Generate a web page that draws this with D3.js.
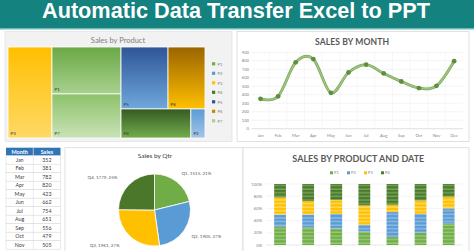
<!DOCTYPE html>
<html><head><meta charset="utf-8">
<script src="https://cdn.jsdelivr.net/npm/d3@7"></script>
<style>html,body{margin:0;padding:0;background:#fff;overflow:hidden}svg{display:block}</style>
</head><body>
<script>
// ---- data ----
const products = ["P1","P2","P3","P4","P5","P6","P7"];
const productSales = {P1:324,P2:41,P3:400,P4:203,P5:291,P6:229,P7:304};
const months = ["Jan","Feb","Mar","Apr","May","Jun","Jul","Aug","Sep","Oct","Nov","Dec"];
const monthSales = [352,381,782,820,423,662,754,651,556,479,505,795];
const quarters = ["Q1","Q2","Q3","Q4"];
const qtrSales = [1515,1905,1961,1779];
const qtrPct = ["21%","27%","27%","25%"];
const dates = ["1-Jan","2-Jan","3-Jan","4-Jan","5-Jan","6-Jan","7-Jan"];
const stackKeys = ["P1","P2","P3","P4"];
const stackP1 = [30,29,27,22,13,20,35];
const stackP2 = [20,21,24,11,41,31,25];
const stackP3 = [28,22,23,32,12,22,19];
const stackP4 = [22,28,26,35,34,27,21];
const lineTicks = [0,100,200,300,400,500,600,700,800,900];
const pctTicks = [0,0.2,0.4,0.6,0.8,1];

const W=474,H=251;
const svg=d3.select("body").append("svg").attr("width",W).attr("height",H);
const defs=svg.append("defs");
const F="Lato, 'Open Sans', sans-serif";

// ---- header ----
svg.append("rect").attr("x",0).attr("y",0).attr("width",W).attr("height",28).attr("fill","#14827f");
svg.append("rect").attr("x",0).attr("y",28).attr("width",W).attr("height",1.5).attr("fill","#6dbab6");
svg.append("text").attr("x",236).attr("y",18).attr("text-anchor","middle")
  .attr("font-family","'Liberation Sans', Arial, sans-serif").attr("font-weight","bold")
  .attr("font-size",21.5).attr("fill","#fff").attr("textLength",388).attr("lengthAdjust","spacingAndGlyphs")
  .text("Automatic Data Transfer Excel to PPT");

// ---- treemap ----
svg.append("rect").attr("x",5).attr("y",31.5).attr("width",227).attr("height",110).attr("fill","#f2f2f2").attr("stroke","#e3e3e3").attr("stroke-width",0.8);
svg.append("text").attr("x",118).attr("y",43).attr("text-anchor","middle").attr("font-family",F)
  .attr("font-size",7.5).attr("fill","#7f7f7f").text("Sales by Product");
const tmGrad={P1:["#6aa845","#a9d18e"],P2:["#5b9bd5","#a3c6e8"],P3:["#ffbf00","#ffd966"],P4:["#355a22","#74ad4e"],
  P5:["#2f5597","#6fa8dc"],P6:["#9a6400","#ffc000"],P7:["#8dc26a","#c9e3b7"]};
Object.entries(tmGrad).forEach(([k,c])=>{
  const g=defs.append("linearGradient").attr("id","tm"+k).attr("x1",0).attr("y1",0).attr("x2",0).attr("y2",1);
  g.append("stop").attr("offset","0%").attr("stop-color",c[0]);
  g.append("stop").attr("offset","100%").attr("stop-color",c[1]);
});
const tree={name:"root",children:[
  {name:"P3",value:productSales.P3},
  {name:"g1",children:[{name:"P1",value:productSales.P1},{name:"P7",value:productSales.P7}]},
  {name:"g2",children:[
    {name:"r1",children:[{name:"P5",value:productSales.P5},{name:"P6",value:productSales.P6}]},
    {name:"r2",children:[{name:"P4",value:productSales.P4},{name:"P2",value:productSales.P2}]}]}
]};
const root=d3.hierarchy(tree).sum(d=>d.value||0);
d3.treemap().tile(d3.treemapSliceDice).size([197,91]).paddingInner(0)(root);
const tm=svg.append("g").attr("transform","translate(8,47)");
root.leaves().forEach(l=>{
  tm.append("rect").attr("x",l.x0).attr("y",l.y0).attr("width",l.x1-l.x0).attr("height",l.y1-l.y0)
    .attr("fill","url(#tm"+l.data.name+")").attr("stroke","#fff").attr("stroke-width",0.8);
  tm.append("text").attr("x",l.x0+2.5).attr("y",l.y1-3).attr("font-family",F).attr("font-size",4.5)
    .attr("fill","#333").text(l.data.name);
});
const legCol={P1:"#70ad47",P2:"#5b9bd5",P3:"#ffc000",P4:"#4a7a2c",P5:"#2f5597",P6:"#bf8f00",P7:"#a9d18e"};
const legY=d3.scalePoint().domain(products).range([64,121]);
products.forEach(p=>{
  svg.append("rect").attr("x",212).attr("y",legY(p)-1.8).attr("width",3.2).attr("height",3.2).attr("fill",legCol[p]);
  svg.append("text").attr("x",217.5).attr("y",legY(p)+1.5).attr("font-family",F).attr("font-size",4.2).attr("fill","#7f7f7f").text(p);
});

// ---- line chart ----
svg.append("rect").attr("x",237).attr("y",31.5).attr("width",232).attr("height",110).attr("fill","#fff").attr("stroke","#d9d9d9").attr("stroke-width",0.8);
svg.append("text").attr("x",352).attr("y",45).attr("text-anchor","middle").attr("font-family",F).attr("font-weight","bold")
  .attr("font-size",8.6).attr("fill","#595959").attr("textLength",74).attr("lengthAdjust","spacing").text("SALES BY MONTH");
const lx=d3.scaleBand().domain(months).range([251.7,462.9]);
const ly=d3.scaleLinear().domain([0,900]).range([128.7,52.3]);
const lg=svg.append("g");
lineTicks.forEach(t=>{
  lg.append("line").attr("x1",251.7).attr("x2",462.9).attr("y1",ly(t)).attr("y2",ly(t)).attr("stroke","#ececec").attr("stroke-width",0.6);
  lg.append("text").attr("x",249).attr("y",ly(t)+1.5).attr("text-anchor","end").attr("font-family",F).attr("font-size",4.2).attr("fill","#7f7f7f").text(t);
});
months.forEach((m,i)=>{
  if(i>0) lg.append("line").attr("x1",lx(m)).attr("x2",lx(m)).attr("y1",52.3).attr("y2",128.7).attr("stroke","#f0f0f0").attr("stroke-width",0.6);
  lg.append("text").attr("x",lx(m)+lx.bandwidth()/2).attr("y",137).attr("text-anchor","middle").attr("font-family",F).attr("font-size",4.2).attr("fill","#7f7f7f").text(m);
});
lg.append("line").attr("x1",251.7).attr("x2",462.9).attr("y1",ly(0)).attr("y2",ly(0)).attr("stroke","#d9d9d9").attr("stroke-width",0.6);
const pts=months.map((m,i)=>[lx(m)+lx.bandwidth()/2,ly(monthSales[i])]);
const line=d3.line().curve(d3.curveCardinal.tension(0)).x(d=>d[0]).y(d=>d[1]);
lg.append("path").attr("d",line(pts)).attr("fill","none").attr("stroke","#6f9c4c").attr("stroke-width",2.8);
lg.append("path").attr("d",line(pts)).attr("fill","none").attr("stroke","#9dc47c").attr("stroke-width",1.8);
pts.forEach(p=>lg.append("circle").attr("cx",p[0]).attr("cy",p[1]).attr("r",2.4).attr("fill","#5f8f3e"));

// ---- table (rows that fit in the window) ----
const tx0=6,tx1=60.5,tdiv=33.3,thy=147.7,thh=8,rh=8.5;
svg.append("rect").attr("x",tx0).attr("y",thy).attr("width",tx1-tx0).attr("height",thh).attr("fill","#2e75b6");
svg.append("line").attr("x1",tdiv).attr("x2",tdiv).attr("y1",thy).attr("y2",thy+thh).attr("stroke","#fff").attr("stroke-width",0.6);
svg.append("text").attr("x",(tx0+tdiv)/2).attr("y",thy+5.8).attr("text-anchor","middle").attr("font-family",F).attr("font-weight","bold").attr("font-size",5.5).attr("fill","#fff").text("Month");
svg.append("text").attr("x",(tdiv+tx1)/2).attr("y",thy+5.8).attr("text-anchor","middle").attr("font-family",F).attr("font-weight","bold").attr("font-size",5.5).attr("fill","#fff").text("Sales");
months.forEach((m,i)=>{
  const y=thy+thh+i*rh;
  if(y+rh>H+0.5) return;
  svg.append("rect").attr("x",tx0).attr("y",y).attr("width",tx1-tx0).attr("height",rh).attr("fill","#fff").attr("stroke","#d6d6d6").attr("stroke-width",0.5);
  svg.append("line").attr("x1",tdiv).attr("x2",tdiv).attr("y1",y).attr("y2",y+rh).attr("stroke","#d6d6d6").attr("stroke-width",0.5);
  svg.append("text").attr("x",(tx0+tdiv)/2).attr("y",y+6).attr("text-anchor","middle").attr("font-family",F).attr("font-size",5.3).attr("fill","#404040").text(m);
  svg.append("text").attr("x",(tdiv+tx1)/2).attr("y",y+6).attr("text-anchor","middle").attr("font-family",F).attr("font-size",5.3).attr("fill","#404040").text(monthSales[i]);
});

// ---- pie ----
svg.append("rect").attr("x",65).attr("y",147.7).attr("width",178).attr("height",112).attr("fill","#fff").attr("stroke","#d9d9d9").attr("stroke-width",0.8);
svg.append("text").attr("x",155).attr("y",158.3).attr("text-anchor","middle").attr("font-family",F).attr("font-size",6.5).attr("fill","#404040").text("Sales by Qtr");
const pieCol=["#70ad47","#5b9bd5","#ffc000","#4a7729"];
const pieColL=["#8cc46a","#7db2e3","#ffd040","#5e8d3a"];
quarters.forEach((q,i)=>{
  const g=defs.append("radialGradient").attr("id","pg"+i).attr("cx",154.5).attr("cy",210).attr("r",36).attr("gradientUnits","userSpaceOnUse");
  g.append("stop").attr("offset","0%").attr("stop-color",pieColL[i]);
  g.append("stop").attr("offset","100%").attr("stop-color",pieCol[i]);
});
const pie=d3.pie().sort(null).value(d=>d)(qtrSales);
const arc=d3.arc().innerRadius(0).outerRadius(36);
const pg=svg.append("g").attr("transform","translate(154.5,210)");
pie.forEach((p,i)=>{
  pg.append("path").attr("d",arc(p)).attr("fill","url(#pg"+i+")").attr("stroke","#fff").attr("stroke-width",0.8);
  const a=(p.startAngle+p.endAngle)/2;
  const R=47, right=Math.sin(a)>0;
  const x=Math.sin(a)*R+(right?-2:-4), y=-Math.cos(a)*R+2;
  pg.append("text").attr("x",x).attr("y",y).attr("text-anchor",right?"start":"end").attr("font-family",F)
    .attr("font-size",4.5).attr("fill","#595959").text(quarters[i]+", "+qtrSales[i]+", "+qtrPct[i]);
});

// ---- stacked bars ----
svg.append("rect").attr("x",243).attr("y",147.7).attr("width",226).attr("height",112).attr("fill","#fff").attr("stroke","#d9d9d9").attr("stroke-width",0.8);
svg.append("text").attr("x",358.3).attr("y",161.7).attr("text-anchor","middle").attr("font-family",F).attr("font-weight","bold")
  .attr("font-size",9).attr("fill","#595959").attr("textLength",132).attr("lengthAdjust","spacing").text("SALES BY PRODUCT AND DATE");
const stCol={P1:["#70ad47","#a5cf8a"],P2:["#5b9bd5","#9cc3e8"],P3:["#ffc000","#ffe07a"],P4:["#4a7a2c","#84ad68"]};
Object.entries(stCol).forEach(([k,c])=>{
  const p=defs.append("pattern").attr("id","st"+k).attr("patternUnits","userSpaceOnUse").attr("width",4).attr("height",3.6);
  p.append("rect").attr("width",4).attr("height",3.6).attr("fill",c[0]);
  p.append("rect").attr("y",1.4).attr("width",4).attr("height",1.1).attr("fill",c[1]);
});
const legX=d3.scalePoint().domain(stackKeys).range([330,381]);
stackKeys.forEach(k=>{
  svg.append("rect").attr("x",legX(k)).attr("y",171.3).attr("width",3).attr("height",3).attr("fill",stCol[k][0]);
  svg.append("text").attr("x",legX(k)+4).attr("y",174.3).attr("font-family",F).attr("font-size",4).attr("fill","#7f7f7f").text(k);
});
const rows=dates.map((d,i)=>({date:d,P1:stackP1[i],P2:stackP2[i],P3:stackP3[i],P4:stackP4[i]}));
const series=d3.stack().keys(stackKeys).offset(d3.stackOffsetExpand)(rows);
const bx=d3.scaleBand().domain(dates).range([266,462.7]).paddingInner(0.58).paddingOuter(0.29);
const by=d3.scaleLinear().domain([0,1]).range([245,184]);
const bg=svg.append("g");
pctTicks.forEach(t=>{
  bg.append("line").attr("x1",266).attr("x2",462.7).attr("y1",by(t)).attr("y2",by(t)).attr("stroke",t===0?"#d9d9d9":"#ececec").attr("stroke-width",0.6);
  bg.append("text").attr("x",262).attr("y",by(t)+1.5).attr("text-anchor","end").attr("font-family",F).attr("font-size",4.2).attr("fill","#7f7f7f").text(d3.format(".0%")(t));
});
series.forEach(s=>{
  s.forEach(d=>{
    bg.append("rect").attr("x",bx(d.data.date)).attr("y",by(d[1])).attr("width",bx.bandwidth()).attr("height",by(d[0])-by(d[1]))
      .attr("fill","url(#st"+s.key+")");
  });
});
</script>
</body></html>
